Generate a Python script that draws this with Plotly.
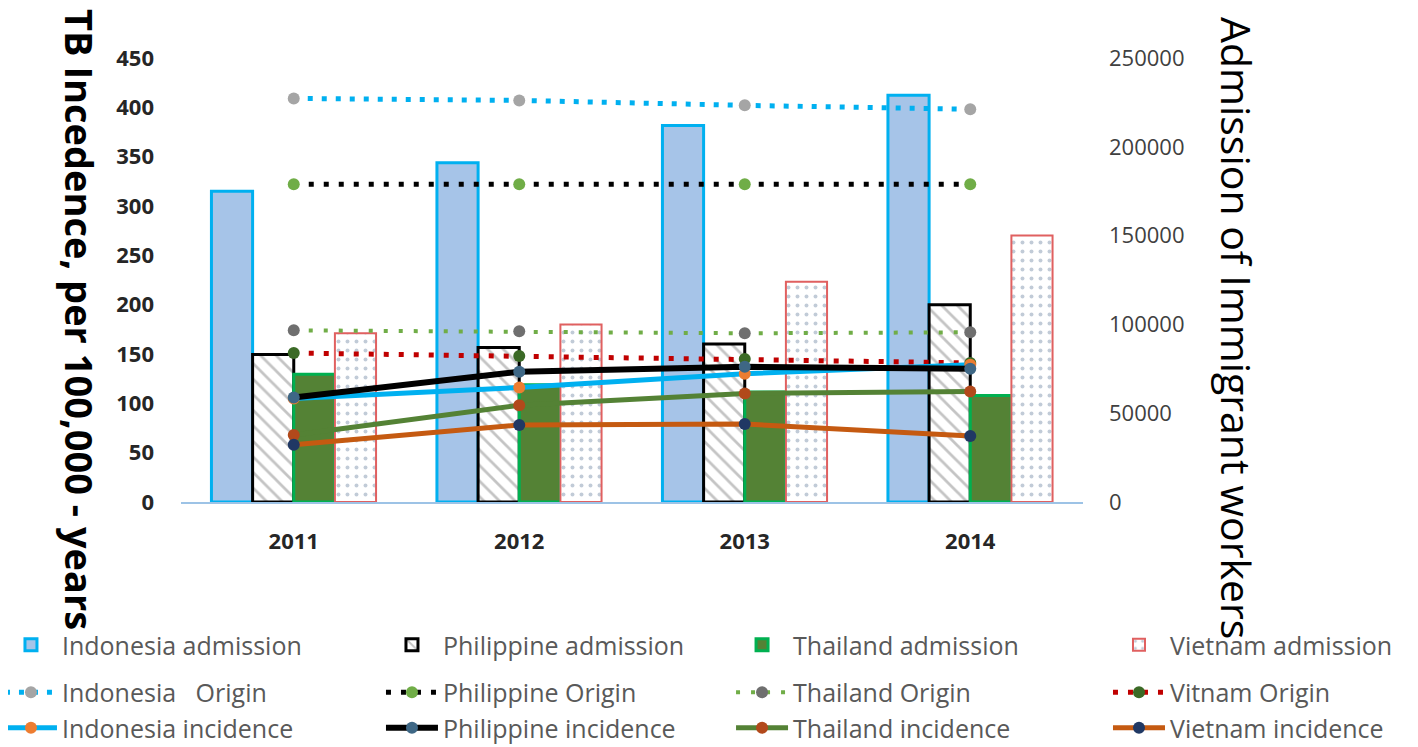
import plotly.graph_objects as go

# ---------------- data ----------------
years = ["2011", "2012", "2013", "2014"]

# Admission of immigrant workers (right axis)
indonesia_admission = [175000, 191000, 212000, 229000]
philippine_admission = [83000, 87000, 89000, 111000]
thailand_admission = [72000, 66000, 62000, 60000]
vietnam_admission = [95000, 100000, 124000, 150000]

# TB incidence in country of origin (left axis)
indonesia_origin = [409, 407, 402, 398]
philippine_origin = [322, 322, 322, 322]
thailand_origin = [174, 173, 171, 172]
vietnam_origin = [151, 148, 145, 141]

# TB incidence among immigrant workers (left axis)
indonesia_incidence = [105, 116, 130, 139]
philippine_incidence = [106, 132, 137, 135]
thailand_incidence = [68, 98, 110, 112]
vietnam_incidence = [58, 78, 79, 67]

FONT = "Open Sans"
fig = go.Figure()

legends = ["legend", "legend2", "legend3", "legend4"]

# ---------------- bars (right axis) ----------------
bars = [
    ("Indonesia admission", indonesia_admission,
     dict(color="#a6c4e8", line=dict(color="#00b0f0", width=3))),
    ("Philippine admission", philippine_admission,
     dict(color="white", line=dict(color="black", width=3),
          pattern=dict(shape="\\", fgcolor="#8a8a8a", bgcolor="white", size=11, solidity=0.25))),
    ("Thailand admission", thailand_admission,
     dict(color="#548235", line=dict(color="#00b050", width=3))),
    ("Vietnam admission", vietnam_admission,
     dict(color="white", line=dict(color="#e06060", width=2),
          pattern=dict(shape=".", fgcolor="#8497b0", bgcolor="white", size=9, solidity=0.15))),
]
for i, (name, vals, marker) in enumerate(bars):
    fig.add_trace(go.Bar(x=years, y=vals, name=name, marker=marker, yaxis="y",
                         legend=legends[i], legendgroup=f"a{i}"))

# ---------------- origin lines (left axis) ----------------
origins = [
    ("Indonesia   Origin", indonesia_origin, "#00b0f0", 5, "5px,9px", "#a5a5a5"),
    ("Philippine Origin", philippine_origin, "black", 5, "5px,10px", "#70ad47"),
    ("Thailand Origin", thailand_origin, "#70ad47", 4, "4px,11px", "#6f6f6f"),
    ("Vitnam Origin", vietnam_origin, "#c00000", 5, "5px,10px", "#3b6a26"),
]
for i, (name, vals, col, w, dash, mcol) in enumerate(origins):
    fig.add_trace(go.Scatter(x=years, y=vals, name=name, mode="lines+markers", yaxis="y2",
                             line=dict(color=col, width=w, dash=dash),
                             marker=dict(color=mcol, size=12),
                             legend=legends[i], legendgroup=f"b{i}"))

# ---------------- incidence lines (left axis) ----------------
incid = [
    ("Indonesia incidence", indonesia_incidence, "#00b0f0", 5, "#ed7d31"),
    ("Philippine incidence", philippine_incidence, "black", 6, "#3e6785"),
    ("Thailand incidence", thailand_incidence, "#548235", 5, "#b2491b"),
    ("Vietnam incidence", vietnam_incidence, "#c55a11", 5, "#203864"),
]
for i, (name, vals, col, w, mcol) in enumerate(incid):
    fig.add_trace(go.Scatter(x=years, y=vals, name=name, mode="lines+markers", yaxis="y2",
                             line=dict(color=col, width=w),
                             marker=dict(color=mcol, size=12),
                             legend=legends[i], legendgroup=f"b{i}"))

# ---------------- layout ----------------
legend_x = [-0.2007, 0.2217, 0.6098, 1.0277]
layout_legends = {}
for key, lx in zip(legends, legend_x):
    layout_legends[key] = dict(
        x=lx, y=-0.2703, xanchor="left", yanchor="top", orientation="v",
        itemwidth=52, tracegroupgap=12, traceorder="grouped",
        bgcolor="rgba(0,0,0,0)",
        font=dict(family=FONT, size=25, color="#595959"),
    )

fig.update_layout(
    width=1418, height=747,
    margin=dict(l=173, r=343, t=50, b=253, autoexpand=False),
    paper_bgcolor="white", plot_bgcolor="white",
    barmode="group", bargap=0.27, bargroupgap=0,
    showlegend=True,
    xaxis=dict(type="category", showline=True, linecolor="#9dc3e6", linewidth=2,
               showgrid=False, ticks="", ticklabelstandoff=19,
               tickfont=dict(family=FONT, size=22, color="#262626", weight="bold")),
    yaxis=dict(side="right", range=[0, 250000], dtick=50000, tickformat="d",
               showgrid=False, zeroline=False, showline=False, ticks="",
               ticklabelstandoff=25,
               tickfont=dict(family=FONT, size=22, color="#404040")),
    yaxis2=dict(overlaying="y", side="left", range=[0, 450], dtick=50,
                showgrid=False, zeroline=False, showline=False, ticks="",
                ticklabelstandoff=26,
                tickfont=dict(family=FONT, size=22, color="#262626", weight="bold")),
    annotations=[
        dict(text="TB Incedence, per 100,000 - years", xref="paper", yref="paper",
             x=-0.112, y=0.41, textangle=90, showarrow=False,
             xanchor="center", yanchor="middle",
             font=dict(family=FONT, size=38, color="black", weight="bold")),
        dict(text="Admission of Immigrant workers", xref="paper", yref="paper",
             x=1.1707, y=0.392, textangle=90, showarrow=False,
             xanchor="center", yanchor="middle",
             font=dict(family=FONT, size=41, color="black")),
    ],
    **layout_legends,
)

fig.write_html("out.html")
